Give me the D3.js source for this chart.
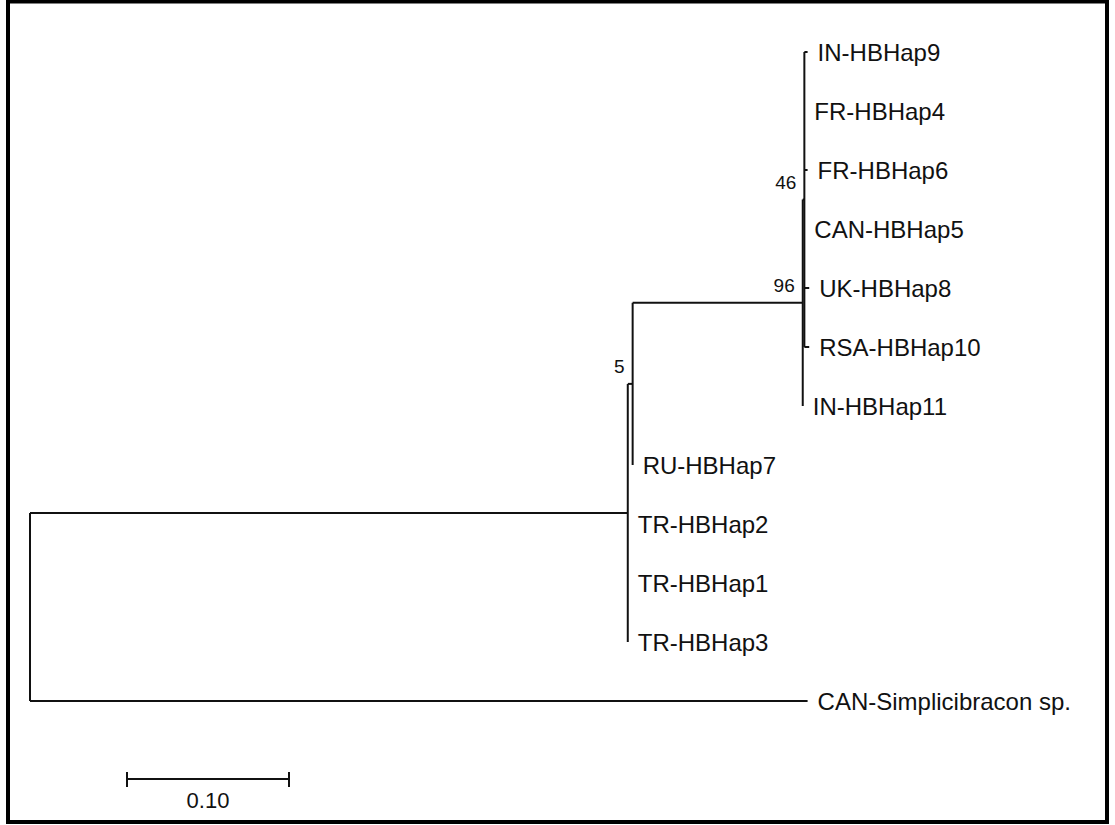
<!DOCTYPE html>
<html>
<head>
<meta charset="utf-8">
<script src="https://cdn.jsdelivr.net/npm/d3@7"></script>
<style>
  html, body { margin: 0; padding: 0; background: #fff; }
  svg { display: block; }
  text { font-family: "Liberation Sans", Arial, sans-serif; fill: #111; }
</style>
</head>
<body>
<svg id="chart" width="1115" height="825"></svg>
<script>
// ---- Tree data (node, parent, branch length, bootstrap) ----
const nodeNames = ["root", "TR", "N5", "N96", "N46",
  "IN-HBHap9", "FR-HBHap4", "FR-HBHap6", "CAN-HBHap5", "UK-HBHap8", "RSA-HBHap10",
  "IN-HBHap11", "RU-HBHap7", "TR-HBHap2", "TR-HBHap1", "TR-HBHap3",
  "CAN-Simplicibracon sp."];
const parentNames = ["", "root", "TR", "N5", "N96",
  "N46", "N46", "N46", "N46", "N46", "N46",
  "N96", "N5", "TR", "TR", "TR",
  "root"];
const branchLengths = [0, 0.369, 0.003, 0.105, 0.001,
  0.002, 0.0, 0.002, 0.0, 0.003, 0.003,
  0.0, 0.0, 0.0, 0.0, 0.0,
  0.480];
const bootstrapValues = [null, null, 5, 96, 46,
  null, null, null, null, null, null,
  null, null, null, null, null,
  null];
const scaleBarValue = 0.10;
const scaleBarLabel = "0.10";

const table = nodeNames.map((n, i) => ({
  id: n, parent: parentNames[i] || null, len: branchLengths[i], boot: bootstrapValues[i]
}));

const root = d3.stratify().id(d => d.id).parentId(d => d.parent)(table);
root.each(d => { d.dist = d.parent ? d.parent.dist + d.data.len : 0; });

const leaves = root.leaves();
const x = d3.scaleLinear().domain([0, scaleBarValue]).range([30, 192]);
const yLeaf = d3.scaleLinear().domain([0, leaves.length - 1]).range([52, 701]);
leaves.forEach((l, i) => { l.y = yLeaf(i); });
root.eachAfter(d => {
  if (d.children) d.y = (d.children[0].y + d.children[d.children.length - 1].y) / 2;
});

const svg = d3.select("#chart");
// frame
svg.append("rect").attr("x", 8).attr("y", 1.5).attr("width", 1099).attr("height", 820.5)
  .attr("fill", "#fff").attr("stroke", "#000").attr("stroke-width", 4);

const g = svg.append("g").attr("stroke", "#111").attr("stroke-width", 2).attr("fill", "none");

// horizontal branches
root.descendants().filter(d => d.parent).forEach(d => {
  if (x(d.dist) - x(d.parent.dist) > 0.01) {
    g.append("line")
      .attr("x1", x(d.parent.dist)).attr("x2", x(d.dist))
      .attr("y1", d.y).attr("y2", d.y);
  }
});
// vertical connectors
root.descendants().filter(d => d.children).forEach(d => {
  g.append("line")
    .attr("x1", x(d.dist)).attr("x2", x(d.dist))
    .attr("y1", d.children[0].y).attr("y2", d.children[d.children.length - 1].y);
});

// leaf labels
svg.selectAll("text.leaf").data(leaves).join("text")
  .attr("class", "leaf")
  .attr("x", d => x(d.dist) + 10)
  .attr("y", d => d.y + 8.5)
  .attr("font-size", 24)
  .text(d => d.id);

// bootstrap labels
svg.selectAll("text.boot").data(root.descendants().filter(d => d.data.boot != null)).join("text")
  .attr("class", "boot")
  .attr("x", d => x(d.dist) - 8)
  .attr("y", d => d.y - 11)
  .attr("text-anchor", "end")
  .attr("font-size", 19)
  .text(d => d.data.boot);

// scale bar
const sbX0 = 127, sbY = 779;
const sbLen = x(scaleBarValue) - x(0);
const sb = svg.append("g").attr("stroke", "#111").attr("stroke-width", 2);
sb.append("line").attr("x1", sbX0).attr("x2", sbX0 + sbLen).attr("y1", sbY).attr("y2", sbY);
sb.append("line").attr("x1", sbX0).attr("x2", sbX0).attr("y1", sbY - 7).attr("y2", sbY + 8);
sb.append("line").attr("x1", sbX0 + sbLen).attr("x2", sbX0 + sbLen).attr("y1", sbY - 7).attr("y2", sbY + 8);
svg.append("text").attr("x", sbX0 + sbLen / 2).attr("y", 808)
  .attr("text-anchor", "middle").attr("font-size", 22).text(scaleBarLabel);
</script>
</body>
</html>
